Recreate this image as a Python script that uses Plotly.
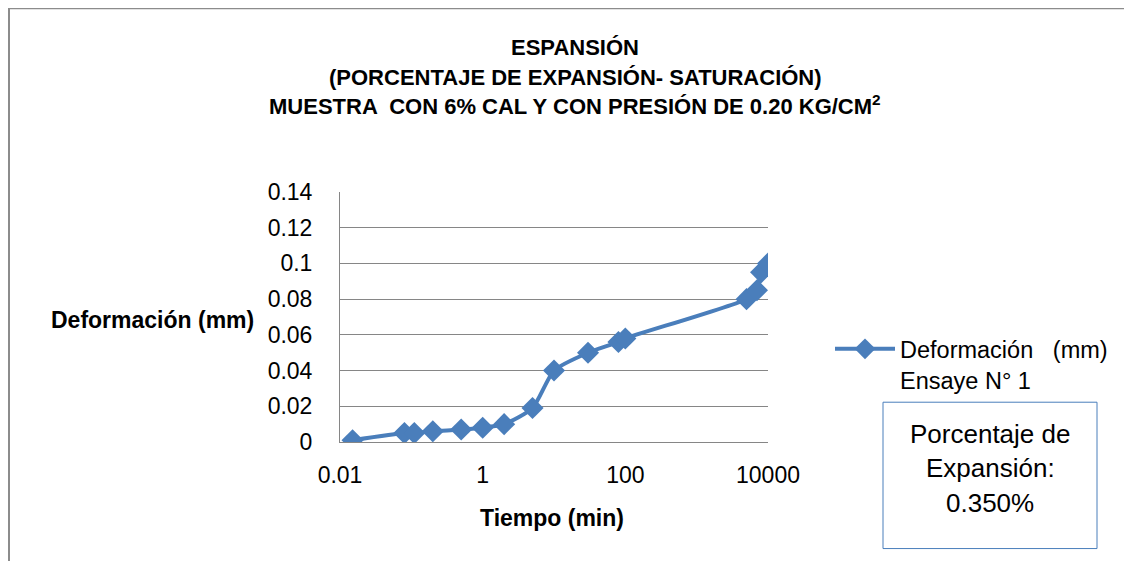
import plotly.graph_objects as go

# tiempo (min) y deformación (mm)
tiempo_min = [0.015, 0.08, 0.11, 0.2, 0.5, 1, 2, 5, 10, 30, 80, 100, 5000, 7000, 8000, 10000]
deformacion_mm = [0.001, 0.005, 0.005, 0.006, 0.007, 0.008, 0.01, 0.019, 0.04, 0.05,
                  0.056, 0.058, 0.08, 0.085, 0.095, 0.1]

x_tickvals = [0.01, 1, 100, 10000]
x_ticktext = ["0.01", "1", "100", "10000"]
y_tickvals = [0, 0.02, 0.04, 0.06, 0.08, 0.1, 0.12, 0.14]
y_ticktext = ["0", "0.02", "0.04", "0.06", "0.08", "0.1", "0.12", "0.14"]

title_lines = [
    "ESPANSIÓN",
    "(PORCENTAJE DE EXPANSIÓN- SATURACIÓN)",
    "MUESTRA  CON 6% CAL Y CON PRESIÓN DE 0.20 KG/CM<sup>2</sup>",
]
box_lines = ["Porcentaje de", "Expansión:", "0.350%"]

FONT = "Liberation Sans"
BLUE = "#4a7ebb"
GRID = "#868686"

# the page body adds an 8px offset, so the figure is 8px smaller
OFF = 8
W, H = 1132 - OFF, 561 - OFF
# plot area in screen pixels
L, R, T, B = 340, 768, 192.3, 441.7


def px(x):
    return (x - L) / (R - L)


def py(y):
    return (B - y) / (B - T)


fig = go.Figure()
fig.add_trace(
    go.Scatter(
        x=tiempo_min,
        y=deformacion_mm,
        mode="lines+markers",
        name="Deformación   (mm)<br>Ensaye N° 1",
        line=dict(color=BLUE, width=4, shape="spline", smoothing=0.6),
        marker=dict(symbol="diamond", size=17, color=BLUE),
    )
)

annotations = []
for text, y in zip(title_lines, [48, 78, 106]):
    annotations.append(dict(
        text=f"<b>{text}</b>", xref="paper", yref="paper", x=px(575), y=py(y),
        xanchor="center", yanchor="middle",
        showarrow=False, font=dict(family=FONT, size=22, color="black"),
    ))
for text, y in zip(box_lines, [434, 468, 503]):
    annotations.append(dict(
        text=text, xref="paper", yref="paper", x=px(990), y=py(y),
        xanchor="center", yanchor="middle",
        showarrow=False, font=dict(family=FONT, size=26, color="black"),
    ))
annotations.append(dict(
    text="<b>Deformación (mm)</b>", xref="paper", yref="paper", x=px(152), y=py(320),
    xanchor="center", yanchor="middle",
    showarrow=False, font=dict(family=FONT, size=23, color="black"),
))
annotations.append(dict(
    text="<b>Tiempo (min)</b>", xref="paper", yref="paper", x=px(552), y=py(518),
    xanchor="center", yanchor="middle",
    showarrow=False, font=dict(family=FONT, size=23, color="black"),
))

shapes = [
    # marco del gráfico
    dict(type="rect", xref="paper", yref="paper", x0=px(9), x1=px(1200), y0=py(9), y1=py(640),
         line=dict(color="#8c8c8c", width=2)),
    # recuadro del porcentaje
    dict(type="rect", xref="paper", yref="paper", x0=px(883), x1=px(1097), y0=py(548), y1=py(402),
         line=dict(color=BLUE, width=1)),
]

fig.update_layout(
    width=W,
    height=H,
    margin=dict(l=L - OFF, r=W - (R - OFF), t=T - OFF, b=H - (B - OFF), autoexpand=False),
    paper_bgcolor="white",
    plot_bgcolor="white",
    font=dict(family=FONT, size=23, color="black"),
    showlegend=True,
    legend=dict(
        x=px(830), y=py(327), xanchor="left", yanchor="top",
        valign="top", bgcolor="rgba(0,0,0,0)", itemwidth=60,
        font=dict(family=FONT, size=23.5, color="black"),
    ),
    annotations=annotations,
    shapes=shapes,
)
fig.update_xaxes(
    type="log", range=[-2, 4], tickvals=x_tickvals, ticktext=x_ticktext,
    showgrid=False, showline=True, linecolor=GRID, linewidth=1,
    ticks="outside", ticklen=12, tickcolor="rgba(0,0,0,0)", zeroline=False,
)
fig.update_yaxes(
    range=[0, 0.14], tickvals=y_tickvals, ticktext=y_ticktext,
    showgrid=True, gridcolor=GRID, gridwidth=1,
    showline=True, linecolor=GRID, linewidth=1,
    ticks="outside", ticklen=22, tickcolor="rgba(0,0,0,0)", zeroline=False,
)

fig.write_html("out.html")
